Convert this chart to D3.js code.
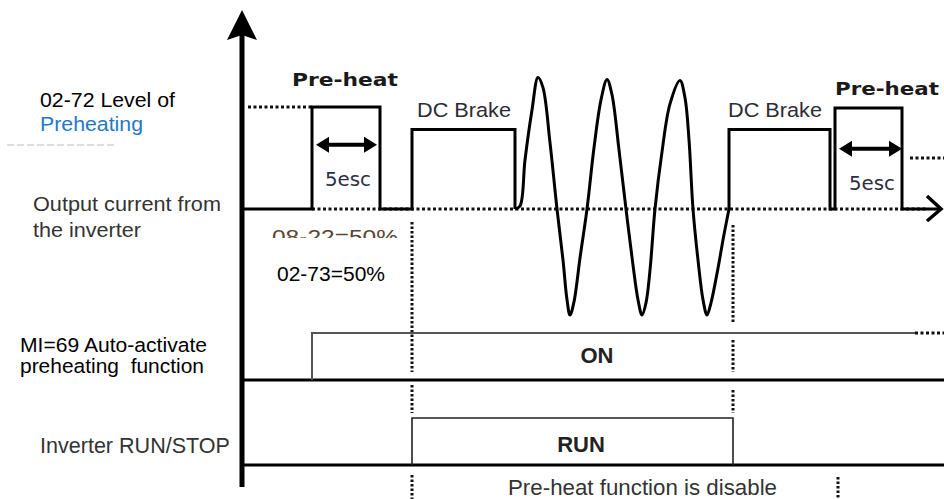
<!DOCTYPE html>
<html><head><meta charset="utf-8">
<script src="https://cdn.jsdelivr.net/npm/d3@7"></script>
<style>html,body{margin:0;padding:0;background:#fff;} svg{display:block}</style>
</head><body>
<svg id="chart" width="944" height="499"></svg>
<script>
// ---- data (time in seconds along x, current in % of preheat level) ----
const currentStepsA = [[0,0],[7.0,0],[7.0,100],[13.8,100],[13.8,0],[17.0,0],[17.0,78],[27.3,78],[27.3,0]];
const sineWave = [[27.3,0],[27.8,3],[28.3,48],[29.0,97],[29.6,129],[30.1,119],[30.8,65],[31.5,0],[32.1,-50],[32.5,-89],[32.8,-104],[33.2,-91],[33.8,-48],[34.5,0],[35.2,60],[35.9,107],[36.5,127],[37.0,112],[37.7,58],[38.4,0],[39.1,-55],[39.6,-89],[40.0,-104],[40.4,-92],[40.8,-60],[41.3,0],[42.0,56],[42.8,103],[43.8,126],[44.3,109],[44.7,68],[45.1,0],[45.6,-50],[46.1,-89],[46.5,-104],[46.9,-92],[47.6,-58],[48.2,-25],[48.7,0]];
const currentStepsB = [[48.7,0],[48.7,78],[58.8,78],[58.8,0],[59.3,0],[59.3,99],[66.0,99],[66.0,0],[69.9,0]];
const preheatLevelLeft = [[0.6,100],[7.0,100]];
const levelRight = [[66.8,50],[70.2,50]];
const baselineDotted = [[7.0,0],[68.6,0]];
const preheatSpans = [[7.4,13.5,63],[59.7,66.0,59]];
const miSignal = [[7.0,0],[7.0,1],[67.3,1]];
const miDotted = [[67.3,1],[70.2,1]];
const runSignal = [[17.0,0],[17.0,1],[49.1,1],[49.1,0]];
const guideTimes = [17.0, 49.1, 59.6];
const pulseLabels = ["Pre-heat","DC Brake","DC Brake","Pre-heat"];
const spanLabels = ["5esc","5esc"];
const leftLabels = ["02-72 Level of","Preheating","Output current from","the inverter","MI=69 Auto-activate","preheating  function","Inverter RUN/STOP"];
const otherLabels = ["02-73=50%","ON","RUN","Pre-heat function is disable","08-22=50%"];

// ---- scales ----
const svg = d3.select("#chart");
const xT = d3.scaleLinear().domain([0,70]).range([242,942]);
const yCur = d3.scaleLinear().domain([0,100]).range([209,107]);
const yMI = d3.scaleLinear().domain([0,1]).range([380,333]);
const yRun = d3.scaleLinear().domain([0,1]).range([465,418]);

const lineCur = d3.line().x(d=>xT(d[0])).y(d=>yCur(d[1]));
const lineSine = d3.line().x(d=>xT(d[0])).y(d=>yCur(d[1])).curve(d3.curveCatmullRom.alpha(0.5));
const lineMI = d3.line().x(d=>xT(d[0])).y(d=>yMI(d[1]));
const lineRun = d3.line().x(d=>xT(d[0])).y(d=>yRun(d[1]));

const FONT = "'Liberation Sans', Arial, sans-serif";

// faint artifact near left
svg.append("line").attr("x1",7).attr("x2",115).attr("y1",145).attr("y2",145)
  .attr("stroke","#d4d4d4").attr("stroke-width",1.5).attr("stroke-dasharray","7,3");

// dotted lines
const dotted = (path, w) => svg.append("path").attr("d", path).attr("fill","none")
  .attr("stroke","#111").attr("stroke-width", w||3).attr("stroke-dasharray","3,2.5");
dotted(lineCur(baselineDotted));
dotted(lineCur(preheatLevelLeft));
dotted(lineCur(levelRight));
dotted(lineMI(miDotted));

// vertical guides
const guideSpans = [
  [[222,372],[385,413],[475,499]],
  [[225,322],[340,372],[390,413]],
  [[477,499]]
];
guideTimes.forEach((t,i)=>{
  guideSpans[i].forEach(s=>{
    svg.append("line").attr("x1",xT(t)).attr("x2",xT(t)).attr("y1",s[0]).attr("y2",s[1])
      .attr("stroke","#111").attr("stroke-width",3).attr("stroke-dasharray","2.5,2");
  });
});

// current waveform
[currentStepsA, currentStepsB].forEach(d=>{
  svg.append("path").attr("d", lineCur(d)).attr("fill","none")
    .attr("stroke","#000").attr("stroke-width",3).attr("stroke-linejoin","miter");
});
svg.append("path").attr("d", lineSine(sineWave)).attr("fill","none")
  .attr("stroke","#000").attr("stroke-width",3);

// horizontal axis arrow head
const ax = xT(69.9), ay = yCur(0);
svg.append("path").attr("d",`M${ax-14},${ay-13} L${ax},${ay} L${ax-14},${ay+12}`)
  .attr("fill","none").attr("stroke","#000").attr("stroke-width",3.5);

// 5 sec double arrows
preheatSpans.forEach(s=>{
  const x1=xT(s[0]), x2=xT(s[1]), y=yCur(s[2]);
  svg.append("line").attr("x1",x1+8).attr("x2",x2-8).attr("y1",y).attr("y2",y)
    .attr("stroke","#000").attr("stroke-width",4);
  svg.append("path").attr("d",`M${x1},${y} L${x1+13},${y-8} L${x1+13},${y+8} Z`).attr("fill","#000");
  svg.append("path").attr("d",`M${x2},${y} L${x2-13},${y-8} L${x2-13},${y+8} Z`).attr("fill","#000");
});

// MI and RUN lanes
svg.append("line").attr("x1",xT(0)).attr("x2",944).attr("y1",yMI(0)).attr("y2",yMI(0))
  .attr("stroke","#000").attr("stroke-width",3);
svg.append("path").attr("d", lineMI(miSignal)).attr("fill","none").attr("stroke","#555").attr("stroke-width",2);
svg.append("line").attr("x1",xT(0)).attr("x2",944).attr("y1",yRun(0)).attr("y2",yRun(0))
  .attr("stroke","#000").attr("stroke-width",3);
svg.append("path").attr("d", lineRun(runSignal)).attr("fill","none").attr("stroke","#222").attr("stroke-width",1.6);

// vertical axis with arrow
svg.append("line").attr("x1",xT(0)).attr("x2",xT(0)).attr("y1",34).attr("y2",487)
  .attr("stroke","#000").attr("stroke-width",5);
svg.append("path").attr("d",`M${xT(0)},10 L${xT(0)+15},40 L${xT(0)},35 L${xT(0)-15},40 Z`).attr("fill","#000");

// ---- text ----
function txt(s, x, y, size, opts){
  opts = opts||{};
  const t = svg.append("text").attr("x",x).attr("y",y).text(s)
    .attr("font-family", opts.family||FONT).attr("font-size", size)
    .attr("fill", opts.color||"#000")
    .attr("font-weight", opts.bold?"bold":"normal")
    .attr("text-anchor", opts.anchor||"start")
    .style("white-space","pre");
  if(opts.len) t.attr("textLength",opts.len).attr("lengthAdjust","spacingAndGlyphs");
  if(opts.clip) t.attr("clip-path", opts.clip);
  return t;
}
// pulse labels
txt(pulseLabels[0], 292, 86, 18, {bold:true, family:"'DejaVu Sans', Verdana, sans-serif", len:106, color:"#1a1a1a"});
txt(pulseLabels[1], 417, 117, 20.5, {len:94, color:"#2c2c36"});
txt(pulseLabels[2], 728, 117, 20.5, {len:94, color:"#2c2c36"});
txt(pulseLabels[3], 835, 95, 18, {bold:true, family:"'DejaVu Sans', Verdana, sans-serif", len:104, color:"#1a1a1a"});
txt(spanLabels[0], 325, 186, 19, {family:"'DejaVu Sans', Verdana, sans-serif", len:46, color:"#2a3048"});
txt(spanLabels[1], 849, 190, 19, {family:"'DejaVu Sans', Verdana, sans-serif", len:46, color:"#2a3048"});

// left labels
txt(leftLabels[0], 40, 107, 20.5, {len:135});
txt(leftLabels[1], 40, 131, 20.5, {len:103, color:"#1e78c8"});
txt(leftLabels[2], 33, 211, 21, {len:188, color:"#333"});
txt(leftLabels[3], 33, 237, 21, {len:108, color:"#333"});
txt(leftLabels[4], 20, 352, 20.5, {len:187});
txt(leftLabels[5], 20, 373, 20.5, {len:184});
txt(leftLabels[6], 40, 453, 21.5, {len:190, color:"#333"});

// other labels
txt(otherLabels[0], 277, 281, 20.5, {len:108});
txt(otherLabels[1], 597, 363, 22, {bold:true, anchor:"middle", color:"#222"});
txt(otherLabels[2], 581, 452, 22, {bold:true, anchor:"middle", color:"#222"});
txt(otherLabels[3], 508, 495, 21.5, {len:269, color:"#333"});

// clipped artifact text
svg.append("clipPath").attr("id","cut").append("rect").attr("x",260).attr("y",226).attr("width",150).attr("height",12);
txt(otherLabels[4], 272, 244, 20, {len:126, color:"#5a4632", clip:"url(#cut)"});
</script>
</body></html>
